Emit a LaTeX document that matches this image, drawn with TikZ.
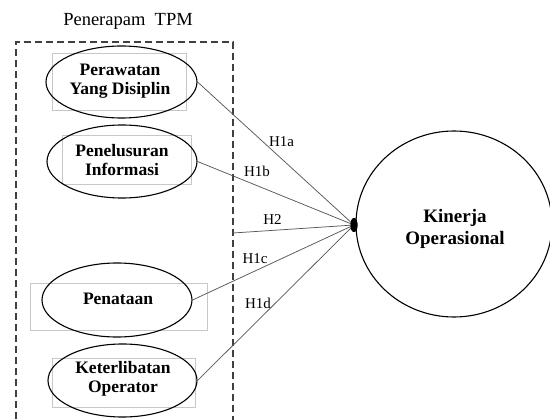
\documentclass[tikz,border=0pt]{standalone}
\usepackage{fontspec}
\setmainfont{Liberation Serif}
\usetikzlibrary{shapes.geometric}
\begin{document}
\begin{tikzpicture}[x=1pt,y=-1pt,
  varell/.style={draw=black,line width=1.1pt,ellipse,inner sep=0pt},
  varlbl/.style={font=\fontsize{17.5}{19}\selectfont\bfseries,align=center,inner sep=0pt},
  graybox/.style={draw=black!22,line width=0.8pt},
  conn/.style={draw=black!65,line width=0.75pt},
  hlbl/.style={font=\fontsize{15}{17}\selectfont,inner sep=0pt},
  groupbox/.style={draw=black!75,line width=1.2pt,dash pattern=on 7pt off 4pt}]
\useasboundingbox (0,0) rectangle (550,420);
\clip (0,0) rectangle (550,420);
\fill[white] (0,0) rectangle (550,420);
% title and group
\node[font=\fontsize{18.5}{20}\selectfont,inner sep=0pt] (title) at (128,21) {Penerapam\ \ TPM};
\draw[groupbox] (16,430) -- (16,42) -- (233,42) -- (233,430);
% gray frames
\draw[graybox] (52,53) rectangle (186,110);
\draw[graybox] (62,135) rectangle (191,184);
\draw[graybox] (30,283) rectangle (207,330);
\draw[graybox] (52,358) rectangle (195,407);
% ellipses
\node[varell,minimum width=151pt,minimum height=72pt] (e1) at (121.5,82) {};
\node[varlbl] (t1) at (120,81) {Perawatan\\Yang Disiplin};
\node[varell,minimum width=150pt,minimum height=73pt] (e2) at (122,161.5) {};
\node[varlbl] (t2) at (122,160) {Penelusuran\\Informasi};
\node[varell,minimum width=150pt,minimum height=74pt] (e3) at (117,300) {};
\node[varlbl] (t3) at (118,299) {Penataan};
\node[varell,minimum width=149pt,minimum height=73pt] (e4) at (122.5,380.5) {};
\node[varlbl] (t4) at (123,379) {Keterlibatan\\Operator};
% outcome
\node[draw=black,line width=1.1pt,ellipse,inner sep=0pt,minimum width=196pt,minimum height=186pt] (k) at (454,224) {};
\node[font=\fontsize{19}{22}\selectfont\bfseries,align=center,inner sep=0pt] (kt) at (455,229) {Kinerja\\Operasional};
% connectors
\node[fill=black,ellipse,inner sep=0pt,minimum width=7pt,minimum height=14pt] (blob) at (354,225) {};
\coordinate (h2s) at (233,233);
\draw[conn] (e1.east) -- (blob.center);
\draw[conn] (e2.east) -- (blob.center);
\draw[conn] (h2s) -- (blob.center);
\draw[conn] (e3.east) -- (blob.center);
\draw[conn] (e4.east) -- (blob.center);
\node[fill=black,ellipse,inner sep=0pt,minimum width=7pt,minimum height=14pt] at (blob) {};
% labels
\node[hlbl] (l1a) at (281.5,142) {H1a};
\node[hlbl] (l1b) at (257,171) {H1b};
\node[hlbl] (l2) at (272.5,220) {H2};
\node[hlbl] (l1c) at (255,258.5) {H1c};
\node[hlbl] (l1d) at (258,303.5) {H1d};
\end{tikzpicture}
\end{document}
